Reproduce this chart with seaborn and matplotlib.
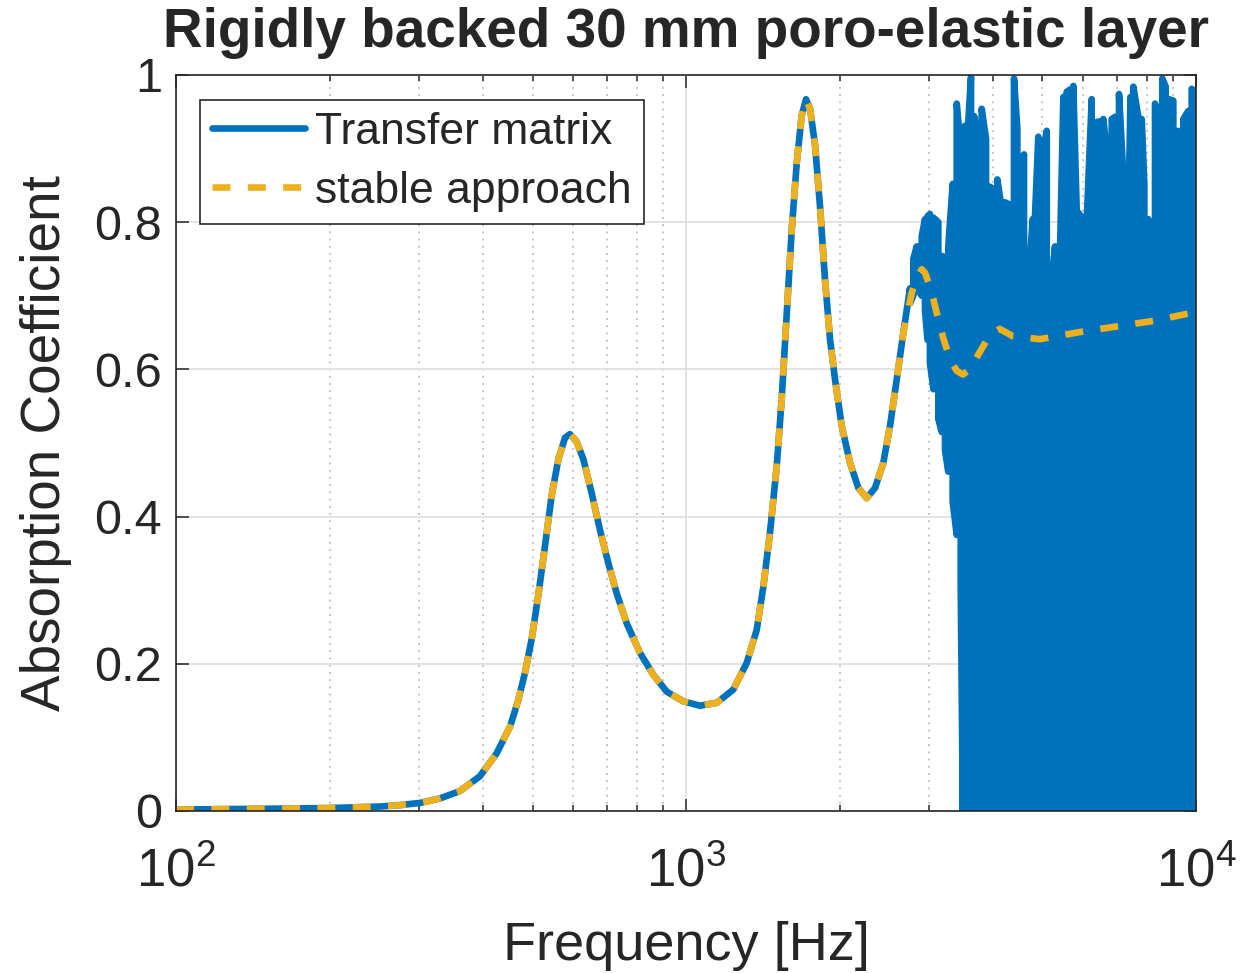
import numpy as np
import pandas as pd
import matplotlib
matplotlib.use("Agg")
import matplotlib.pyplot as plt
import seaborn as sns
from matplotlib.ticker import FixedLocator, NullFormatter

# ------------------------------------------------------------------ #
# data (frequency in Hz, absorption coefficient)
# ------------------------------------------------------------------ #
# both methods agree up to ~2.7 kHz
shared_freq = [100, 150, 200, 250, 275, 301, 329, 360, 394, 425,
               452, 469, 483, 498, 513, 529, 545, 562, 579, 592,
               610, 629, 653, 678, 704, 731, 765, 812, 863, 917,
               988, 1065, 1149, 1238, 1315, 1376, 1418, 1461, 1506, 1540,
               1576, 1612, 1649, 1686, 1719, 1751, 1791, 1831, 1873, 1916,
               1960, 2020, 2097, 2177, 2261, 2348, 2437, 2512, 2589, 2668]
shared_alpha = [0.002, 0.003, 0.004, 0.006, 0.008, 0.011, 0.017, 0.027, 0.047, 0.078,
                0.115, 0.151, 0.187, 0.233, 0.292, 0.360, 0.428, 0.478, 0.507, 0.512,
                0.502, 0.478, 0.432, 0.382, 0.337, 0.296, 0.255, 0.215, 0.185, 0.162,
                0.149, 0.143, 0.147, 0.165, 0.201, 0.246, 0.305, 0.378, 0.468, 0.559,
                0.677, 0.790, 0.881, 0.945, 0.967, 0.954, 0.904, 0.822, 0.722, 0.641,
                0.586, 0.523, 0.473, 0.439, 0.425, 0.439, 0.473, 0.523, 0.586, 0.650]

# stable approach above 2.7 kHz
stable_freq = [2771, 2836, 2899, 2942, 3008, 3056, 3124, 3196, 3293, 3395,
               3490, 3605, 3763, 3946, 4122, 4374, 4943, 5956, 7096, 8276, 10000]
stable_alpha = [0.704, 0.725, 0.736, 0.731, 0.712, 0.695, 0.668, 0.642, 0.614, 0.598,
                0.593, 0.600, 0.623, 0.647, 0.655, 0.645, 0.641, 0.651, 0.659, 0.666, 0.678]

# transfer matrix goes unstable: spike tops and troughs
noise_freq = [2749, 2791, 2834, 2899, 2942, 2976, 3008, 3056, 3124, 3172,
              3220, 3268, 3334, 3395, 3457, 3490, 3524, 3577, 3621, 3671,
              3726, 3800, 3875, 3946, 4005, 4078, 4141, 4222, 4305, 4397,
              4463, 4532, 4600, 4690, 4785, 4834, 4907, 4983, 5097, 5197,
              5291, 5412, 5495, 5578, 5660, 5747, 5836, 5878, 6012, 6105,
              6245, 6387, 6483, 6580, 6731, 6835, 6937, 7064, 7235, 7347,
              7440, 7536, 7707, 7826, 7919, 8063, 8162, 8311, 8435, 8589,
              8722, 8853, 9027, 9208, 9304, 9444, 9660, 9809, 9995]
noise_top = [0.710, 0.750, 0.767, 0.781, 0.804, 0.808, 0.811, 0.806, 0.800, 0.754,
             0.752, 0.767, 0.852, 0.961, 0.899, 0.920, 0.931, 0.936, 0.997, 0.944,
             0.924, 0.954, 0.913, 0.848, 0.845, 0.858, 0.827, 0.827, 0.824, 0.995,
             0.927, 0.868, 0.892, 0.720, 0.804, 0.808, 0.916, 0.886, 0.924, 0.713,
             0.767, 0.760, 0.970, 0.977, 0.980, 0.985, 0.815, 0.813, 0.804, 0.801,
             0.967, 0.936, 0.937, 0.940, 0.879, 0.940, 0.943, 0.974, 0.838, 0.754,
             0.970, 0.984, 0.943, 0.940, 0.852, 0.804, 0.766, 0.961, 0.950, 0.995,
             0.984, 0.967, 0.965, 0.924, 0.890, 0.940, 0.951, 0.981, 0.977]
noise_bottom_start = [0.69, 0.70, 0.71, 0.70, 0.68, 0.64, 0.609, 0.573, 0.533, 0.515,
                      0.49, 0.461, 0.42, 0.375, 0.305]
# above ~3.5 kHz every trough hits zero
noise_bottom = noise_bottom_start + [0.0] * (len(noise_freq) - len(noise_bottom_start))

BLUE = "#0072BD"
YELLOW = "#EDB120"
DARK = "#262626"

# zig-zag between top and trough at each sampled frequency
zz_freq, zz_alpha = [], []
for i, (f, top, bot) in enumerate(zip(noise_freq, noise_top, noise_bottom)):
    zz_freq += [f, f]
    zz_alpha += [top, bot] if i % 2 == 0 else [bot, top]

tm_df = pd.DataFrame({"freq": shared_freq + zz_freq, "alpha": shared_alpha + zz_alpha})
st_df = pd.DataFrame({"freq": shared_freq + stable_freq, "alpha": shared_alpha + stable_alpha})

# ------------------------------------------------------------------ #
# plot
# ------------------------------------------------------------------ #
sns.set_style("ticks")
plt.rcParams["font.family"] = ["Liberation Sans", "DejaVu Sans"]
plt.rcParams["mathtext.fontset"] = "custom"
plt.rcParams["mathtext.rm"] = "Liberation Sans"
plt.rcParams["mathtext.default"] = "regular"

fig, ax = plt.subplots(figsize=(12.53, 9.73), dpi=100)
fig.subplots_adjust(left=0.1405, right=0.9545, top=0.923, bottom=0.1665)

sns.lineplot(data=tm_df, x="freq", y="alpha", sort=False, estimator=None,
             color=BLUE, lw=4.8, ax=ax, label="Transfer matrix")
sns.lineplot(data=st_df, x="freq", y="alpha", sort=False, estimator=None,
             color=YELLOW, lw=4.8, ax=ax, label="stable approach")
ax.lines[-1].set_dashes((2.7, 2.6))
ax.lines[-1].set_dash_capstyle("butt")

ax.set_xscale("log")
ax.set_xlim(100, 10000)
ax.set_ylim(0, 1)

ax.xaxis.set_major_locator(FixedLocator([100, 1000, 10000]))
ax.set_xticklabels(["$10^{2}$", "$10^{3}$", "$10^{4}$"])
ax.xaxis.set_minor_locator(FixedLocator([k * d for d in (100, 1000) for k in range(2, 10)]))
ax.xaxis.set_minor_formatter(NullFormatter())
ax.set_yticks([0, 0.2, 0.4, 0.6, 0.8, 1.0])
ax.set_yticklabels(["0", "0.2", "0.4", "0.6", "0.8", "1"])

ax.set_axisbelow(True)
ax.grid(which="major", color="#dedede", lw=1.2, ls="-")
ax.xaxis.grid(which="minor", color="#bdbdbd", lw=1.3, ls=(0, (1, 3)))

ax.tick_params(which="both", direction="in", top=True, right=True,
               color=DARK, width=1.1, labelcolor=DARK)
ax.tick_params(which="major", length=9, labelsize=35, pad=10)
ax.tick_params(axis="x", which="major", labelsize=38, pad=26)
ax.tick_params(which="minor", length=4.5)
for sp in ax.spines.values():
    sp.set_color(DARK)
    sp.set_linewidth(1.2)

ax.set_xlabel("Frequency [Hz]", fontsize=39, color=DARK)
ax.set_ylabel("Absorption Coefficient", fontsize=39.5, color=DARK)
ax.xaxis.set_label_coords(0.5, -0.15)
ax.yaxis.set_label_coords(-0.102, 0.5)
ax.set_title("Rigidly backed 30 mm poro-elastic layer", fontsize=39.5,
             fontweight="bold", pad=20)

leg = ax.legend(loc="upper left", bbox_to_anchor=(24 / 1020, 1 - 25 / 735),
                borderaxespad=0, fontsize=32, handlelength=2.1, handletextpad=0.22,
                labelspacing=0.4, borderpad=0.27, fancybox=False,
                edgecolor=DARK, framealpha=1)
leg.get_frame().set_linewidth(1.2)

plt.savefig("out.png", dpi=100)
plt.close()
